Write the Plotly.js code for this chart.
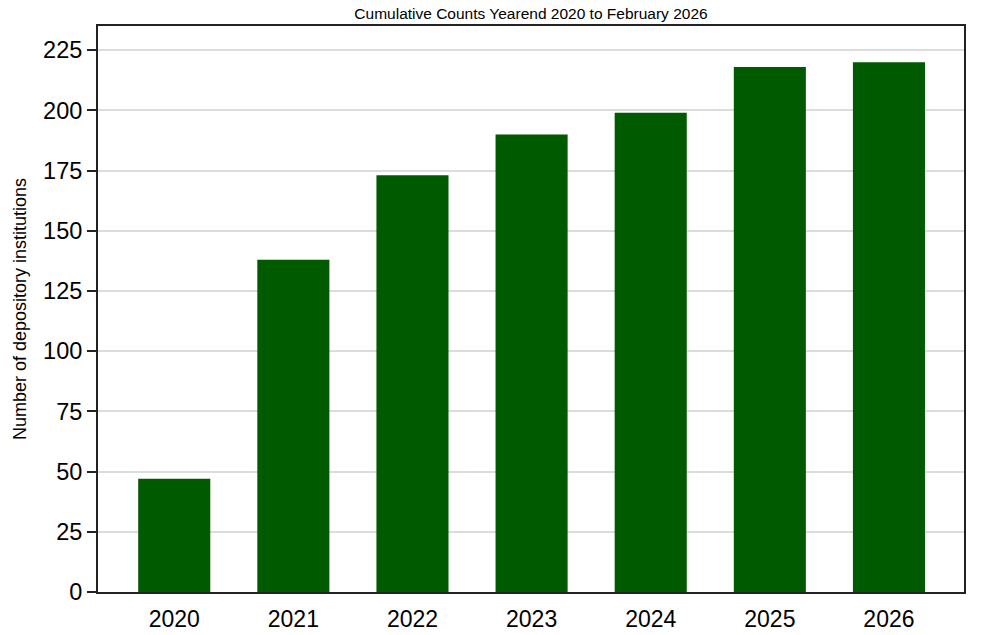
<!DOCTYPE html>
<html>
<head>
<meta charset="utf-8">
<script src="https://cdn.plot.ly/plotly-3.0.1.min.js"></script>
<style>
  html, body { margin: 0; padding: 0; background: #fff; }
  #chart { width: 1000px; height: 635px; }
</style>
</head>
<body>
<div id="chart"></div>
<script>
var years = ['2020', '2021', '2022', '2023', '2024', '2025', '2026'];
var counts = [47, 138, 173, 190, 199, 218, 220];
var yTicks = [0, 25, 50, 75, 100, 125, 150, 175, 200, 225];

var bars = {
    x: years,
    y: counts,
    type: 'bar',
    width: 0.605,
    marker: {color: '#005a00'},
    hoverinfo: 'x+y'
};

var layout = {
    width: 1000,
    height: 635,
    margin: {l: 98, r: 36, t: 26, b: 43},
    paper_bgcolor: '#ffffff',
    plot_bgcolor: '#ffffff',
    font: {family: 'Liberation Sans, Arial, sans-serif', color: '#000'},
    title: {
        text: 'Cumulative Counts Yearend 2020 to February 2026',
        font: {size: 15.5, color: '#000'},
        x: 0.5,
        xref: 'paper',
        y: 0.978,
        yanchor: 'middle'
    },
    showlegend: false,
    xaxis: {
        type: 'category',
        range: [-0.64, 6.63],
        showline: true,
        linecolor: '#222',
        linewidth: 2,
        mirror: true,
        ticks: '',
        showgrid: false,
        tickfont: {size: 23, color: '#000'},
        ticklabelstandoff: 5
    },
    yaxis: {
        range: [0, 235],
        tickvals: yTicks,
        showline: true,
        linecolor: '#222',
        linewidth: 2,
        mirror: true,
        ticks: 'outside',
        ticklen: 9,
        tickwidth: 2,
        tickcolor: '#222',
        showgrid: true,
        gridcolor: '#dcdcdc',
        gridwidth: 2,
        zeroline: false,
        tickfont: {size: 23.5, color: '#000'},
        title: {
            text: 'Number of depository institutions',
            font: {size: 18, color: '#000'},
            standoff: 12
        }
    }
};

Plotly.newPlot('chart', [bars], layout, {displayModeBar: false});
</script>
</body>
</html>
